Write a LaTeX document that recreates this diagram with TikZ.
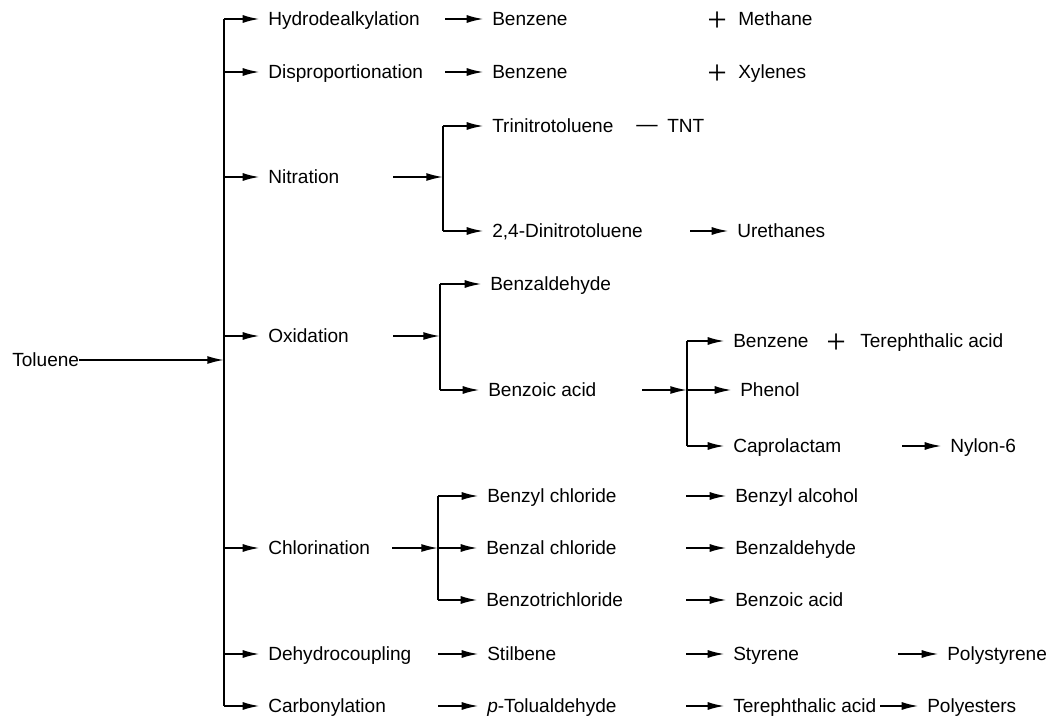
\documentclass[tikz,border=0pt]{standalone}
\usepackage{fontspec}
\setmainfont{Liberation Sans}
\newfontfamily\signfont{Liberation Serif}
\usepackage{tikz}
\usetikzlibrary{arrows.meta}

\begin{document}
\begin{tikzpicture}[x=0.75pt, y=-0.75pt]
        \tikzstyle{every node}=[anchor=west, inner sep=0pt, text height=11pt, text depth=1pt, font=\fontsize{14.3}{17}\selectfont]
        \tikzstyle{flow}=[-{Latex[length=12.5pt, width=6pt]}, line width=1.25pt, shorten >=6.5pt]
        \tikzstyle{feed}=[-{Latex[length=12.5pt, width=6pt]}, line width=1.25pt]
        \tikzstyle{trunk}=[line width=1.25pt]
        \tikzstyle{sign}=[font=\signfont\fontsize{26}{26}\selectfont]

        \useasboundingbox (0,0) rectangle (1047,725);

        \node (tol) at (12,360) {Toluene};
        \coordinate (main) at (224,360);

        \node (hyd) at (268,19) {Hydrodealkylation};
        \node (dis) at (268,72) {Disproportionation};
        \node (nit) at (268,177) {Nitration};
        \node (oxi) at (268,336) {Oxidation};
        \node (chl) at (268,548) {Chlorination};
        \node (deh) at (268,654) {Dehydrocoupling};
        \node (car) at (268,706) {Carbonylation};

        \draw[trunk] (main |- hyd) -- (main |- car);
        \draw[feed] (tol) -- (main);
        \foreach \n in {hyd,dis,nit,oxi,chl,deh,car}
            \draw[flow] (main |- \n) -- (\n);

        % hydrodealkylation, disproportionation
        \node (benzA) at (492,19) {Benzene};
        \node (plusA) at (707,21) [sign] {\raisebox{-3pt}{+}};
        \node (meth) at (738,19) {Methane};
        \node (benzB) at (492,72) {Benzene};
        \node (plusB) at (707,74) [sign] {\raisebox{-3pt}{+}};
        \node (xyl) at (738,72) {Xylenes};
        \coordinate (hydO) at (445,19);
        \coordinate (disO) at (445,72);
        \draw[flow] (hydO) -- (benzA);
        \draw[flow] (disO) -- (benzB);

        % nitration
        \node (tnb) at (492,126) {Trinitrotoluene};
        \node (tdash) at (636,125) [font=\fontsize{16}{18}\selectfont] {—};
        \node (tnt) at (667,126) {TNT};
        \node (dnt) at (492,231) {2,4-Dinitrotoluene};
        \node (ure) at (737,231) {Urethanes};
        \coordinate (nitO) at (393,177);
        \coordinate (nitJ) at (443,177);
        \coordinate (dntO) at (690,231);
        \draw[feed] (nitO) -- (nitJ);
        \draw[trunk] (nitJ |- tnb) -- (nitJ |- dnt);
        \draw[flow] (nitJ |- tnb) -- (tnb);
        \draw[flow] (nitJ |- dnt) -- (dnt);
        \draw[flow] (dntO) -- (ure);

        % oxidation
        \node (bzal) at (490,284) {Benzaldehyde};
        \node (bzac) at (488,390) {Benzoic acid};
        \coordinate (oxiO) at (393,336);
        \coordinate (oxiJ) at (440,336);
        \draw[feed] (oxiO) -- (oxiJ);
        \draw[trunk] (oxiJ |- bzal) -- (oxiJ |- bzac);
        \draw[flow] (oxiJ |- bzal) -- (bzal);
        \draw[flow] (oxiJ |- bzac) -- (bzac);

        \node (benzC) at (733,341) {Benzene};
        \node (plusC) at (826,343) [sign] {\raisebox{-3pt}{+}};
        \node (tpaA) at (860,341) {Terephthalic acid};
        \node (phe) at (740,390) {Phenol};
        \node (cap) at (733,446) {Caprolactam};
        \node (nyl) at (950,446) {Nylon-6};
        \coordinate (bzacO) at (642,390);
        \coordinate (bzacJ) at (687,390);
        \coordinate (capO) at (902,446);
        \draw[feed] (bzacO) -- (bzacJ);
        \draw[trunk] (bzacJ |- benzC) -- (bzacJ |- cap);
        \foreach \n in {benzC,phe,cap}
            \draw[flow] (bzacJ |- \n) -- (\n);
        \draw[flow] (capO) -- (nyl);

        % chlorination
        \node (bzcl) at (487,496) {Benzyl chloride};
        \node (bacl) at (486,548) {Benzal chloride};
        \node (btcl) at (486,600) {Benzotrichloride};
        \node (bzoh) at (735,496) {Benzyl alcohol};
        \node (bzalB) at (735,548) {Benzaldehyde};
        \node (bzacB) at (735,600) {Benzoic acid};
        \coordinate (chlO) at (392,548);
        \coordinate (chlJ) at (438,548);
        \coordinate (chlR) at (686,548);
        \draw[feed] (chlO) -- (chlJ);
        \draw[trunk] (chlJ |- bzcl) -- (chlJ |- btcl);
        \foreach \n in {bzcl,bacl,btcl}
            \draw[flow] (chlJ |- \n) -- (\n);
        \foreach \n in {bzoh,bzalB,bzacB}
            \draw[flow] (chlR |- \n) -- (\n);

        % dehydrocoupling, carbonylation
        \node (stil) at (487,654) {Stilbene};
        \node (sty) at (733,654) {Styrene};
        \node (psty) at (947,654) {Polystyrene};
        \node (ptol) at (487,706) {\textit{p}-Tolualdehyde};
        \node (tpaB) at (733,706) {Terephthalic acid};
        \node (pest) at (927,706) {Polyesters};
        \coordinate (dehO) at (438,654);
        \coordinate (stilO) at (686,654);
        \coordinate (styO) at (898,654);
        \coordinate (carO) at (438,706);
        \coordinate (ptolO) at (686,706);
        \coordinate (tpaO) at (880,706);
        \draw[flow] (dehO) -- (stil);
        \draw[flow] (stilO) -- (sty);
        \draw[flow] (styO) -- (psty);
        \draw[flow] (carO) -- (ptol);
        \draw[flow] (ptolO) -- (tpaB);
        \draw[flow] (tpaO) -- (pest);

\end{tikzpicture}
\end{document}
